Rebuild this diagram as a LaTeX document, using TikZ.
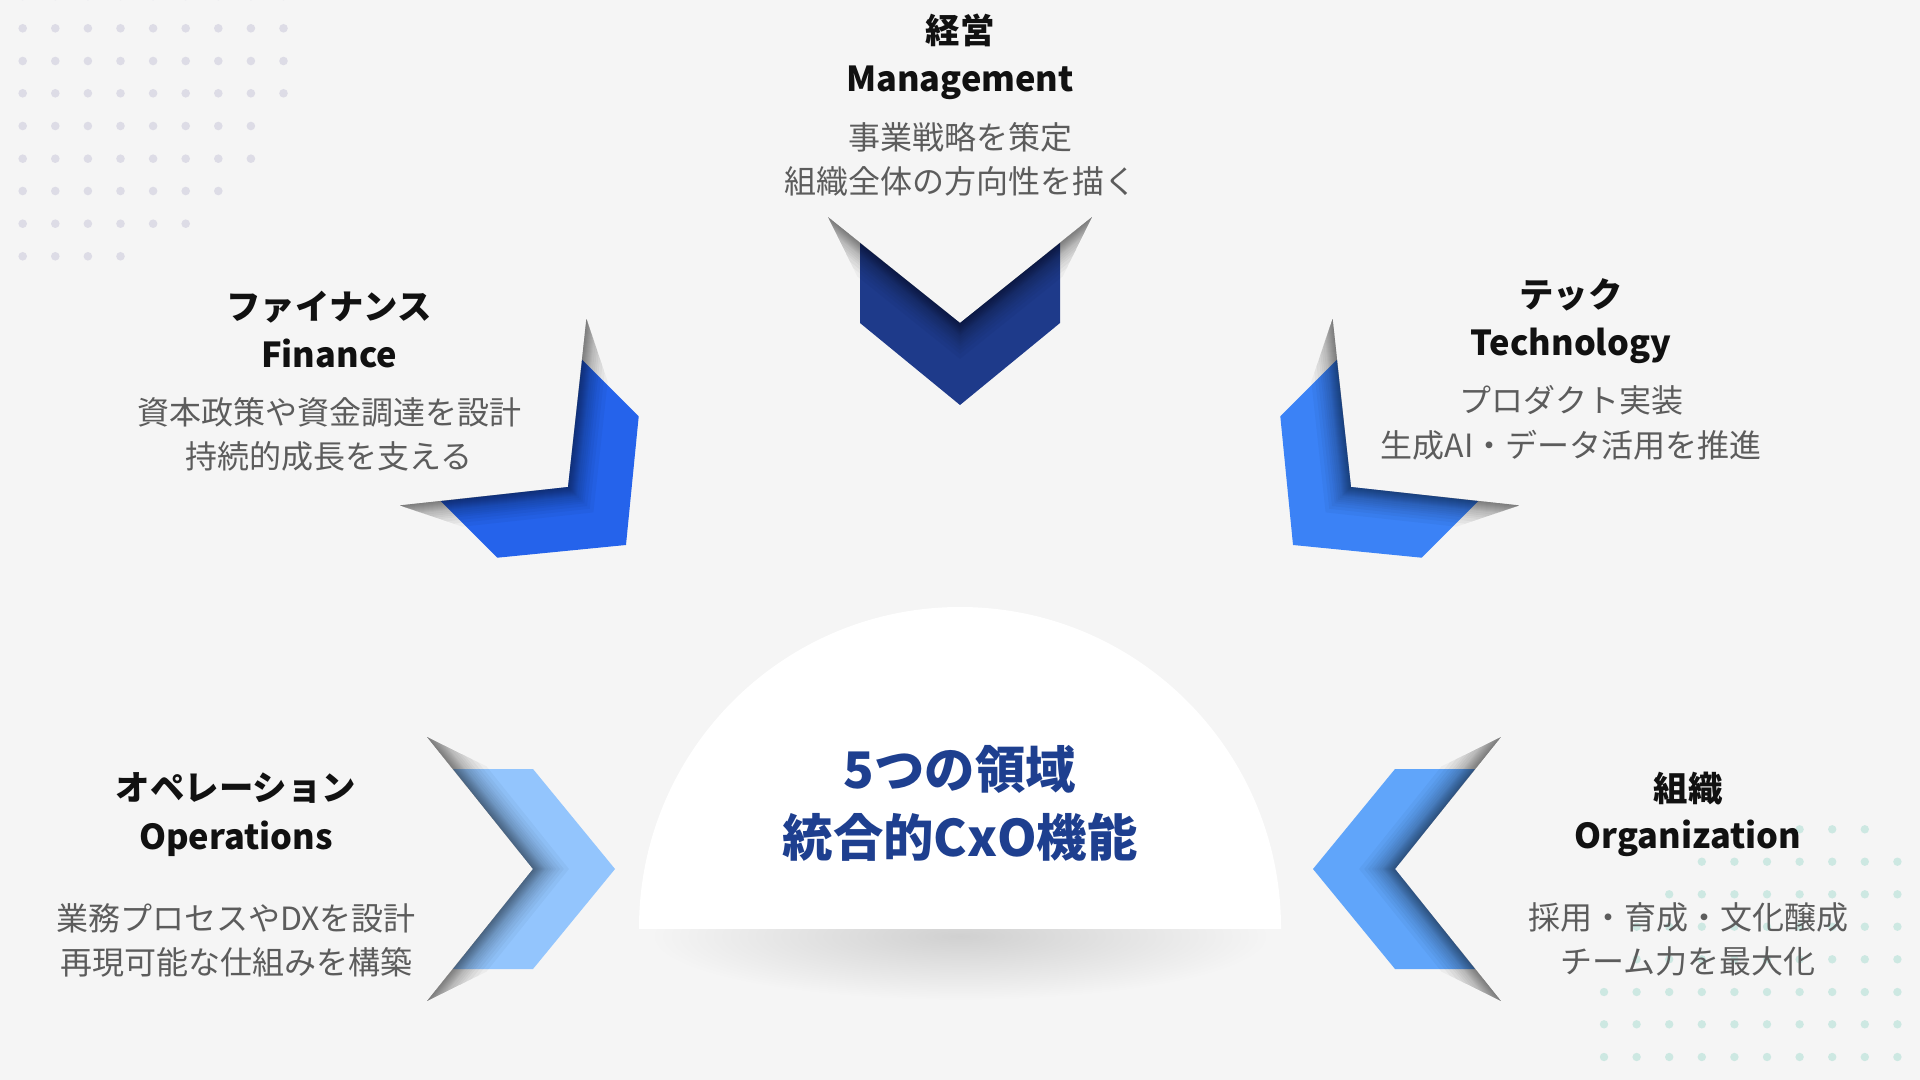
\documentclass[tikz,border=0pt]{standalone}
\usepackage{fontspec}
\setmainfont{Noto Sans CJK JP}
\definecolor{bg}{HTML}{F5F5F5}
\definecolor{dotA}{HTML}{DDDCE6}
\definecolor{dotB}{HTML}{CDE8E2}
\definecolor{titlecol}{HTML}{111111}
\definecolor{desccol}{HTML}{5C5C5C}
\definecolor{ctrcol}{HTML}{1E3F8F}
\definecolor{cMgmt}{HTML}{1E3A8A}
\definecolor{cFin}{HTML}{2563EB}
\definecolor{cTech}{HTML}{3B82F6}
\definecolor{cOrg}{HTML}{60A5FA}
\definecolor{cOps}{HTML}{93C5FD}
\tikzset{
  jtitle/.style={font=\fontsize{17.2}{20}\selectfont\bfseries, text=titlecol, anchor=base, inner sep=0pt},
  etitle/.style={font=\fontsize{17.2}{20}\selectfont\bfseries, text=titlecol, anchor=base, inner sep=0pt},
  desc/.style={font=\fontsize{16}{19}\selectfont, text=desccol, anchor=base, inner sep=0pt},
  ctr/.style={font=\fontsize{25.2}{30}\selectfont\bfseries, text=ctrcol, anchor=base, inner sep=0pt},
  shadowline/.style={draw=black, draw opacity=0.034, line join=miter, line cap=butt},
}
\newcommand\mychevron[4]{%
  \begin{scope}[shift={(#1,#2)}, rotate=#3]
    \fill[#4] (-100,-80) -- (0,0) -- (100,-80) -- (100,0) -- (0,82) -- (-100,0) -- cycle;
    \begin{scope}
      \clip (-132,-106) -- (0,0) -- (132,-106) -- (87.8,-16.3) -- (87.8,150) -- (-87.8,150) -- (-87.8,-16.3) -- cycle;
      \foreach \w in {1,2,3,4,5,6,7,8,9,10,12,14,16,18,21,24,28}
        \draw[shadowline, line width=\w pt] (-132,-106) -- (0,0) -- (132,-106);
    \end{scope}
  \end{scope}}
\begin{document}
\begin{tikzpicture}[x=0.5pt,y=-0.5pt]
\useasboundingbox (0,0) rectangle (1920,1080);
\fill[bg] (0,0) rectangle (1920,1080);

% dot patterns
\foreach \y/\n in {-4/9, 28.3/9, 61/9, 93.3/9, 126/8, 158.7/8, 191/7, 223.7/6, 256.3/4}
  \foreach \i in {1,...,\n}
    \fill[dotA] ({22.7+32.6*(\i-1)},\y) circle (4.3);
\foreach \y/\a/\b in {829.3/6/8, 861.7/3/9, 894.3/2/9, 926.7/1/9, 959.3/1/9, 992/0/9, 1024.3/0/9, 1057/0/9}
  \foreach \i in {\a,...,\b}
    \fill[dotB] ({1604+32.6*\i},\y) circle (4.2);

% chevrons
\mychevron{960}{323}{0}{cMgmt}
\mychevron{568}{487}{45}{cFin}
\mychevron{1351}{487}{-45}{cTech}
\mychevron{533}{869}{90}{cOps}
\mychevron{1395}{869}{-90}{cOrg}

% central dome
\shade[inner color=black!15!bg, outer color=bg] (960,936) ellipse (310 and 64);
\begin{scope}
  \clip (600,0) rectangle (1320,928);
  \fill[white] (960,928) circle (321);
\end{scope}
\node[ctr] (c1) at (960,788) {5つの領域};
\node[ctr] (c2) at (960,856) {統合的CxO機能};

% Management
\node[jtitle] (mJ) at (960,43.5) {経営};
\node[etitle] (mE) at (960,91.5) {Management};
\node[desc] (mD1) at (960,150) {事業戦略を策定};
\node[desc] (mD2) at (960,193.5) {組織全体の方向性を描く};

% Finance
\node[jtitle] (fJ) at (329,319.5) {ファイナンス};
\node[etitle] (fE) at (329,367) {Finance};
\node[desc] (fD1) at (329,424.6) {資本政策や資金調達を設計};
\node[desc] (fD2) at (329,468.3) {持続的成長を支える};

% Technology
\node[jtitle] (tJ) at (1571,307) {テック};
\node[etitle] (tE) at (1571,355.5) {Technology};
\node[desc] (tD1) at (1571,412.6) {プロダクト実装};
\node[desc] (tD2) at (1571,457.6) {生成AI・データ活用を推進};

% Operations
\node[jtitle] (oJ) at (236,800.5) {オペレーション};
\node[etitle] (oE) at (236,849) {Operations};
\node[desc] (oD1) at (236,930.6) {業務プロセスやDXを設計};
\node[desc] (oD2) at (236,974.6) {再現可能な仕組みを構築};

% Organization
\node[jtitle] (gJ) at (1688,801.5) {組織};
\node[etitle] (gE) at (1688,848) {Organization};
\node[desc] (gD1) at (1688,929.6) {採用・育成・文化醸成};
\node[desc] (gD2) at (1688,973.6) {チーム力を最大化};
\end{tikzpicture}
\end{document}
